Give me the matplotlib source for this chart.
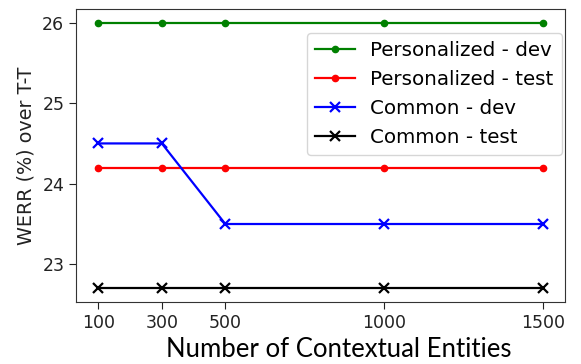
import matplotlib
matplotlib.use("Agg")
import matplotlib.pyplot as plt

plt.rcParams['font.family'] = ['DejaVu Sans']

entities = [100, 300, 500, 1000, 1500]
pers_dev = [26.0, 26.0, 26.0, 26.0, 26.0]
pers_test = [24.2, 24.2, 24.2, 24.2, 24.2]
common_dev = [24.5, 24.5, 23.5, 23.5, 23.5]
common_test = [22.7, 22.7, 22.7, 22.7, 22.7]

fig = plt.figure(figsize=(5.81, 3.64), dpi=100)
ax = fig.add_axes([0.131, 0.171, 0.8415, 0.8035])

ax.plot(entities, pers_dev, color="green", marker=".", markersize=9, linewidth=1.6, label="Personalized - dev")
ax.plot(entities, pers_test, color="red", marker=".", markersize=9, linewidth=1.6, label="Personalized - test")
ax.plot(entities, common_dev, color="blue", marker="x", markersize=7.5, markeredgewidth=1.6, linewidth=1.6, label="Common - dev")
ax.plot(entities, common_test, color="black", marker="x", markersize=7.5, markeredgewidth=1.6, linewidth=1.6, label="Common - test")

ax.set_xticks(entities)
ax.set_xticklabels([str(e) for e in entities])
ax.set_yticks([23, 24, 25, 26])
ax.tick_params(labelsize=12.5, length=5, colors="#222222")
for s in ax.spines.values():
    s.set_color("#333333")
ax.set_ylabel("WERR (%) over T-T", fontsize=13.8, labelpad=5, color="#222222")
ax.set_xlabel("Number of Contextual Entities", fontsize=18.5, family="Lato", labelpad=4)
ax.xaxis.label.set_x(0.537)
ax.legend(loc="upper right", fontsize=14.3, bbox_to_anchor=(0.993, 0.919), borderaxespad=0)

fig.savefig("out.png", dpi=100)
